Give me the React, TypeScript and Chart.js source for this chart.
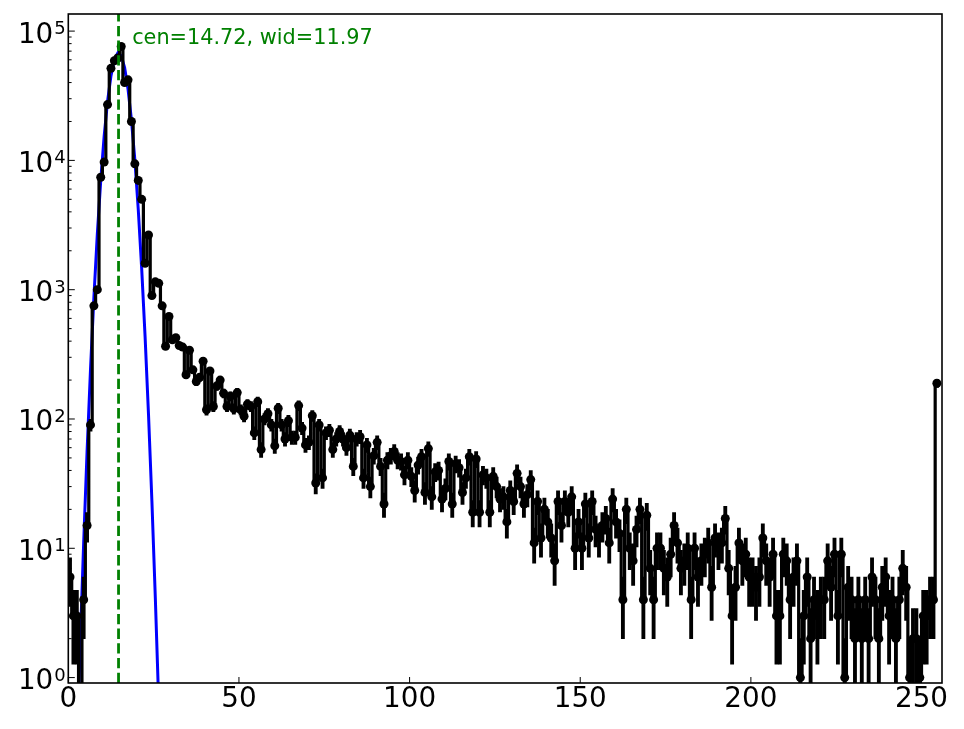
import React, { useEffect, useRef } from "react";
import { Chart, registerables } from "chart.js";

Chart.register(...registerables);

// Histogram counts, one per bin (bin i spans [i, i+1))
const counts = [
  6, 3, 3, 0, 4, 15, 90, 750, 1000, 7400,
  9700, 27000, 51500, 59000, 62000, 76000, 40000, 42000, 20000, 9400,
  7000, 5000, 1600, 2650, 900, 1150, 1120, 750, 365, 620,
  410, 425, 370, 360, 220, 340, 240, 195, 210, 280,
  118, 235, 125, 180, 200, 158, 125, 150, 120, 160,
  118, 105, 130, 125, 78, 136, 58, 100, 110, 90,
  62, 121, 90, 70, 97, 72, 72, 127, 85, 63,
  66, 106, 32, 90, 35, 78, 82, 58, 70, 80,
  70, 60, 75, 43, 70, 73, 35, 63, 30, 52,
  66, 43, 22, 48, 52, 56, 48, 47, 37, 48,
  36, 28, 44, 51, 27, 59, 25, 39, 40, 24,
  29, 47, 22, 45, 42, 27, 35, 51, 19, 49,
  19, 37, 35, 19, 36, 30, 24, 25, 16, 28,
  23, 38, 30, 22, 26, 34, 11, 23, 12, 20,
  16, 12, 8, 23, 15, 23, 19, 25, 10, 16,
  10, 22, 12, 23, 14, 12, 15, 17, 11, 24,
  16, 13, 4, 20, 10, 8, 14, 20, 4, 18,
  7, 4, 10, 10, 7, 6, 9, 15, 11, 7,
  8, 10, 4, 10, 6, 8, 9, 11, 5, 12,
  10, 11, 17, 7, 3, 5, 11, 8, 9, 6,
  6, 5, 6, 12, 8, 6, 9, 3, 3, 9,
  8, 4, 6, 8, 1, 3, 6, 2, 4, 3,
  4, 4, 8, 5, 9, 3, 9, 1, 5, 4,
  2, 4, 2, 4, 2, 6, 4, 2, 5, 6,
  3, 4, 2, 4, 7, 5, 1, 2, 2, 1,
  3, 3, 4, 4, 189,
];

// Gaussian fit evaluated at the first bin centres
const fitValues = [
  0.0031, 0.031, 0.26, 1.83, 11.0, 56.1, 240, 872, 2685, 6985,
  15360, 28600, 45030, 60060, 67730, 64630, 52170, 35650, 20610, 10080,
  4170, 1462, 433, 108.5, 23.0, 4.13, 0.63, 0.081, 0.0088,
];

const fitCen = 14.72;
const annotationText = "cen=14.72, wid=11.97";
const xTicks = [0, 50, 100, 150, 200, 250];
const yTicks = [1, 10, 100, 1000, 10000, 100000];
const yTickExponents = ["0", "1", "2", "3", "4", "5"];

const X_MIN = 0;
const X_MAX = 256;
const Y_MIN = 0.908;
const Y_MAX = 1.356e5;
const FLOOR = 1e-3;
const FONT = '"DejaVu Sans", "Liberation Sans", sans-serif';

const framePlugin = {
  id: "frame",
  afterDatasetsDraw(chart: any) {
    const { ctx, chartArea: a, scales } = chart;
    const xs = scales.x;
    const ys = scales.y;
    ctx.save();
    ctx.strokeStyle = "#000";
    ctx.lineWidth = 1;
    const seg = (x1: number, y1: number, x2: number, y2: number) => {
      ctx.beginPath();
      ctx.moveTo(x1, y1);
      ctx.lineTo(x2, y2);
      ctx.stroke();
    };
    xTicks.forEach((v) => {
      const px = xs.getPixelForValue(v);
      seg(px, a.bottom, px, a.bottom - 6);
    });
    yTicks.forEach((v) => {
      const py = ys.getPixelForValue(v);
      seg(a.left, py, a.left + 6.5, py);
      for (let m = 2; m <= 9; m++) {
        const mv = v * m;
        if (mv < Y_MAX) {
          const pm = ys.getPixelForValue(mv);
          seg(a.left, pm, a.left + 3.3, pm);
        }
      }
    });
    ctx.lineWidth = 1.6;
    ctx.strokeRect(a.left, a.top, a.right - a.left, a.bottom - a.top);

    ctx.fillStyle = "rgb(0,128,0)";
    ctx.font = `20.8px ${FONT}`;
    ctx.textAlign = "left";
    ctx.textBaseline = "alphabetic";
    ctx.fillText(annotationText, xs.getPixelForValue(fitCen + 4), ys.getPixelForValue(8e4));
    ctx.restore();
  },
  afterDraw(chart: any) {
    const { ctx, chartArea: a, scales } = chart;
    const ys = scales.y;
    ctx.save();
    ctx.fillStyle = "#000";
    ctx.textBaseline = "alphabetic";
    yTicks.forEach((v, i) => {
      const py = ys.getPixelForValue(v);
      ctx.font = `27.8px ${FONT}`;
      ctx.textAlign = "right";
      ctx.fillText("10", a.left - 15, py + 11.5);
      ctx.font = `18px ${FONT}`;
      ctx.textAlign = "left";
      ctx.fillText(yTickExponents[i], a.left - 14, py + 3);
    });
    ctx.restore();
  },
};

export default function App() {
  const ref = useRef<HTMLCanvasElement | null>(null);

  useEffect(() => {
    if (!ref.current) return;
    const points = counts.map((v, i) => ({ x: i + 0.5, y: v > 0 ? v : FLOOR }));
    const errBars = counts
      .map((v, i) => ({ v, i }))
      .filter((d) => d.v > 0)
      .map((d) => ({
        x: d.i + 0.5,
        y: [Math.max(d.v - Math.sqrt(d.v), FLOOR), d.v + Math.sqrt(d.v)],
      }));
    const fitPts = fitValues.map((v, i) => ({ x: i + 0.5, y: v }));
    const cenLine = [
      { x: fitCen, y: Y_MIN },
      { x: fitCen, y: Y_MAX },
    ];

    const chart = new Chart(ref.current, {
      type: "line",
      data: {
        datasets: [
          {
            type: "line",
            label: "fit",
            data: fitPts,
            borderColor: "rgb(0,0,255)",
            borderWidth: 3,
            pointRadius: 0,
            order: 3,
          } as any,
          {
            type: "bar",
            label: "err",
            data: errBars,
            backgroundColor: "#000",
            borderWidth: 0,
            barThickness: 3.2,
            grouped: false,
            order: 2,
          } as any,
          {
            type: "line",
            label: "data",
            data: points,
            borderColor: "#000",
            borderWidth: 3.2,
            stepped: "middle",
            pointRadius: (c: any) => (counts[c.dataIndex] > 0 ? 4.5 : 0),
            pointBackgroundColor: "#000",
            pointBorderWidth: 0,
            order: 1,
          } as any,
          {
            type: "line",
            label: "cen",
            data: cenLine,
            borderColor: "rgb(0,128,0)",
            borderWidth: 2.8,
            borderDash: [10.3, 4.4],
            pointRadius: 0,
            order: 0,
          } as any,
        ],
      },
      options: {
        animation: false,
        responsive: false,
        events: [],
        layout: { padding: { top: 14, right: 22, left: 0, bottom: 0 } },
        plugins: { legend: { display: false }, tooltip: { enabled: false } },
        scales: {
          x: {
            type: "linear",
            min: X_MIN,
            max: X_MAX,
            offset: false,
            grid: { display: false, drawTicks: false },
            border: { display: false },
            ticks: {
              color: "#000",
              font: { family: FONT, size: 27.8 },
              padding: 0,
              maxRotation: 0,
            },
            afterBuildTicks: (s: any) => {
              s.ticks = xTicks.map((v) => ({ value: v }));
            },
            afterFit: (s: any) => {
              s.height = 46;
            },
          },
          y: {
            type: "logarithmic",
            min: Y_MIN,
            max: Y_MAX,
            grid: { display: false, drawTicks: false },
            border: { display: false },
            ticks: { display: false },
            afterBuildTicks: (s: any) => {
              s.ticks = yTicks.map((v) => ({ value: v }));
            },
            afterFit: (s: any) => {
              s.width = 68.3;
            },
          },
        },
      } as any,
      plugins: [framePlugin],
    });
    return () => chart.destroy();
  }, []);

  return (
    <div style={{ position: "fixed", left: 0, top: 0, width: 964, height: 729, background: "#fff" }}>
      <canvas ref={ref} width={964} height={729} style={{ width: 964, height: 729, display: "block" }} />
    </div>
  );
}
